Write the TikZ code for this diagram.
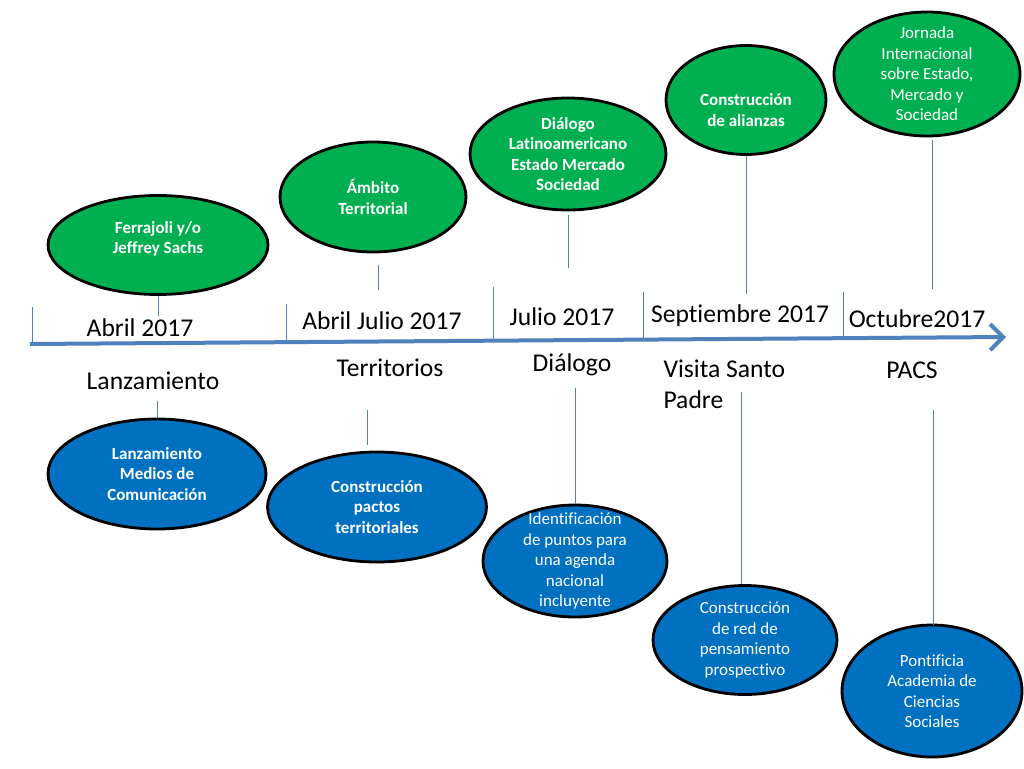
\documentclass[tikz,border=0pt]{standalone}
\usepackage{fontspec}
\setmainfont{Carlito}[RawFeature={-liga;-clig;-calt;-dlig}]
\usetikzlibrary{shapes.geometric,arrows.meta}
\definecolor{verdeppt}{HTML}{00B050}
\definecolor{azulppt}{HTML}{0070C0}
\definecolor{ejeazul}{HTML}{4F81BD}

\begin{document}
\begin{tikzpicture}[x=1pt,y=-1pt,
	elipse/.style={ellipse,draw=black,line width=2.8pt,inner sep=0pt},
	verde/.style={elipse,fill=verdeppt},
	azul/.style={elipse,fill=azulppt},
	txtb/.style={text=white,font=\fontsize{17}{20.5}\selectfont\bfseries,align=center},
	txtn/.style={text=white,font=\fontsize{17}{20.5}\selectfont,align=center},
	fecha/.style={font=\fontsize{25.6}{31}\selectfont},
	linea/.style={draw=ejeazul,line width=1pt},
	eje/.style={draw=ejeazul,line width=4pt,-{Straight Barb[length=13pt,width=26pt]}}]
	\fill[white] (0,0) rectangle (1024,768);
	\useasboundingbox (0,0) rectangle (1024,768);

	% marcas del eje
	\foreach \x/\ya/\yb in {32/307/344, 286/304/342, 493/287/341, 643/292/340, 843/292/338}
		\draw[linea] (\x,\ya) -- (\x,\yb);
	\coordinate (ejeini) at (30,344);
	\coordinate (ejefin) at (1006,337);
	\draw[eje] (ejeini) -- (ejefin);

	% fechas y etapas
	\node[fecha] (abril) at (140,328) {Abril 2017};
	\node[fecha] (abriljulio) at (382,321) {Abril Julio 2017};
	\node[fecha] (julio) at (562,317) {Julio 2017};
	\node[fecha] (septiembre) at (740,316) {Septiembre 2017};
	\node[fecha] (octubre) at (917,319) {Octubre2017};
	\node[fecha] (lanzamiento) at (153,381) {Lanzamiento};
	\node[fecha] (territorios) at (390,368) {Territorios};
	\node[fecha] (dialogo) at (572,365) {Diálogo};
	\node[fecha,align=left,anchor=west] (visita) at (660,384) {Visita Santo\\Padre};
	\node[fecha] (pacs) at (912,370) {PACS};

	% elipses de arriba
	\node[verde,minimum width=220,minimum height=99,label={[txtb,yshift=6pt]center:{Ferrajoli y/o\\Jeffrey Sachs}}] (ferrajoli) at (158,245) {};
	\node[verde,minimum width=186,minimum height=110,label={[txtb]center:{Ámbito\\Territorial}}] (ambito) at (373,197) {};
	\node[verde,minimum width=196,minimum height=112,label={[txtb]center:{Diálogo\\Latinoamericano\\Estado Mercado\\Sociedad}}] (dialogolat) at (568,154) {};
	\node[verde,minimum width=160,minimum height=109,label={[txtb,yshift=-10pt]center:{Construcción\\de alianzas}}] (alianzas) at (746,100) {};
	\node[verde,minimum width=186,minimum height=124,label={[txtn]center:{Jornada\\Internacional\\sobre Estado,\\Mercado y\\Sociedad}}] (jornada) at (927,74) {};

	% elipses de abajo
	\node[azul,minimum width=218,minimum height=110,label={[txtb]center:{Lanzamiento\\Medios de\\Comunicación}}] (lanzmedios) at (157,474) {};
	\node[azul,minimum width=219,minimum height=110,label={[txtb]center:{Construcción\\pactos\\territoriales}}] (pactos) at (377,507) {};
	\node[azul,minimum width=184,minimum height=112,label={[txtn]center:{Identificación\\de puntos para\\una agenda\\nacional\\incluyente}}] (agenda) at (575,561) {};
	\node[azul,minimum width=184,minimum height=109,label={[txtn]center:{Construcción\\de red de\\pensamiento\\prospectivo}}] (red) at (745,640) {};
	\node[azul,minimum width=180,minimum height=132,label={[txtn]center:{Pontificia\\Academia de\\Ciencias\\Sociales}}] (pontificia) at (932,691) {};

	% lineas
	\coordinate (c1) at (158,316);
	\coordinate (c2a) at (378,265);
	\coordinate (c2b) at (378,290);
	\coordinate (c3a) at (568,215);
	\coordinate (c3b) at (568,268);
	\coordinate (c4) at (746,294);
	\coordinate (c5a) at (932,140);
	\coordinate (c5b) at (932,289);
	\coordinate (c6) at (157,401);
	\coordinate (c7a) at (367,410);
	\coordinate (c7b) at (367,445);
	\coordinate (c8) at (575,388);
	\coordinate (c9) at (741,392);
	\coordinate (c10a) at (933,410);
	\coordinate (c10b) at (933,625);
	\draw[linea] (ferrajoli.south) -- (c1);
	\draw[linea] (c2a) -- (c2b);
	\draw[linea] (c3a) -- (c3b);
	\draw[linea] (alianzas.south) -- (c4);
	\draw[linea] (c5a) -- (c5b);
	\draw[linea] (c6) -- (lanzmedios.north);
	\draw[linea] (c7a) -- (c7b);
	\draw[linea] (c8) -- (agenda.north);
	\draw[linea] (c9) -- (c9 |- red.north);
	\draw[linea] (c10a) -- (c10b);
\end{tikzpicture}
\end{document}
